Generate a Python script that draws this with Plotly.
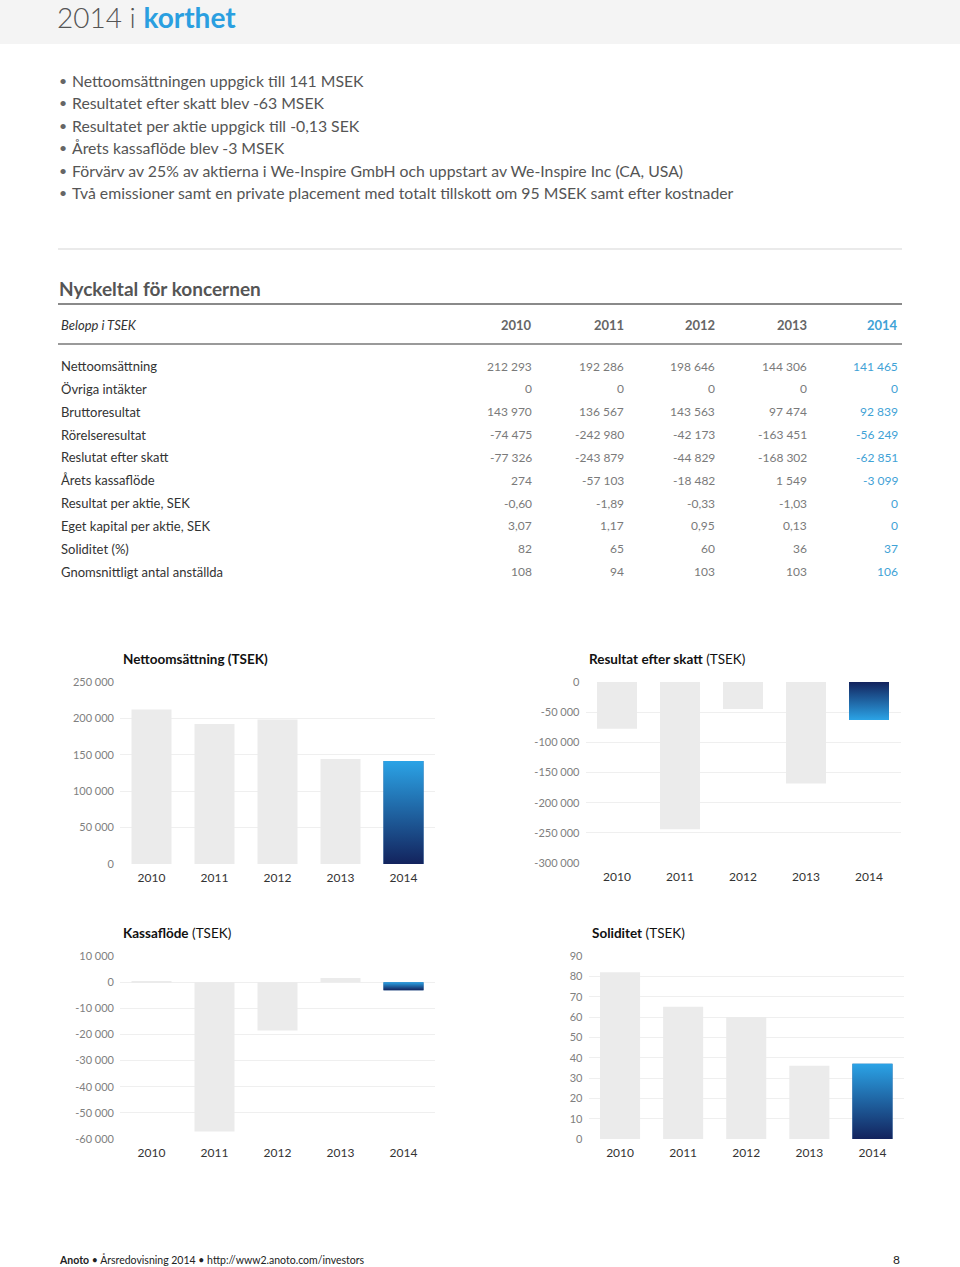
import plotly.graph_objects as go

# ---------------- data ----------------
YEARS = ["2010", "2011", "2012", "2013", "2014"]
NETTO = [212293, 192286, 198646, 144306, 141465]
RESULTAT = [-77326, -243879, -44829, -168302, -62851]
KASSA = [274, -57103, -18482, 1549, -3099]
SOLIDITET = [82, 65, 60, 36, 37]

NETTO_TICKS = [0, 50000, 100000, 150000, 200000, 250000]
RESULTAT_TICKS = [-300000, -250000, -200000, -150000, -100000, -50000, 0]
KASSA_TICKS = [-60000, -50000, -40000, -30000, -20000, -10000, 0, 10000]
SOLID_TICKS = [0, 10, 20, 30, 40, 50, 60, 70, 80, 90]

BULLETS = [
    "Nettoomsättningen uppgick till 141 MSEK",
    "Resultatet efter skatt blev -63 MSEK",
    "Resultatet per aktie uppgick till -0,13 SEK",
    "Årets kassaflöde blev -3 MSEK",
    "Förvärv av 25% av aktierna i We-Inspire GmbH och uppstart av We-Inspire Inc (CA, USA)",
    "Två emissioner samt en private placement med totalt tillskott om 95 MSEK samt efter kostnader",
]

ROW_LABELS = [
    "Nettoomsättning", "Övriga intäkter", "Bruttoresultat", "Rörelseresultat",
    "Reslutat efter skatt", "Årets kassaflöde", "Resultat per aktie, SEK",
    "Eget kapital per aktie, SEK", "Soliditet (%)", "Gnomsnittligt antal anställda",
]
COL_2010 = ["212 293", "0", "143 970", "-74 475", "-77 326", "274", "-0,60", "3,07", "82", "108"]
COL_2011 = ["192 286", "0", "136 567", "-242 980", "-243 879", "-57 103", "-1,89", "1,17", "65", "94"]
COL_2012 = ["198 646", "0", "143 563", "-42 173", "-44 829", "-18 482", "-0,33", "0,95", "60", "103"]
COL_2013 = ["144 306", "0", "97 474", "-163 451", "-168 302", "1 549", "-1,03", "0,13", "36", "103"]
COL_2014 = ["141 465", "0", "92 839", "-56 249", "-62 851", "-3 099", "0", "0", "37", "106"]

# ---------------- style ----------------
W, H = 960, 1267
FONT = "Lato"
GREY_BAR = "#ebebeb"
GRID = "#efefef"
DARK = "#13235d"
LIGHT = "#2ba3e6"
BLUE_TXT = "#3fa2d6"
BAR_W = 0.635


def px(x):
    return x / W


def py(y):
    return 1 - y / H


def fmt(v):
    return f"{v:,}".replace(",", " ")


fig = go.Figure()
annotations = []
shapes = []

# header band
shapes.append(dict(type="rect", xref="paper", yref="paper", x0=0, x1=1, y0=py(44), y1=1,
                   fillcolor="#f4f4f4", line=dict(width=0), layer="below"))
annotations.append(dict(x=px(56), y=py(17), xref="paper", yref="paper", xanchor="left", yanchor="middle",
                        showarrow=False, borderpad=0,
                        text="<span style='color:#555555'>2014 i </span><b><span style='color:#2a9fe0'>korthet</span></b>",
                        font=dict(family=FONT, size=28, color="#555555", weight=300)))

# bullets
for i, b in enumerate(BULLETS):
    y = 80 + i * 22.6
    annotations.append(dict(x=px(57), y=py(y), xref="paper", yref="paper", xanchor="left", yanchor="middle",
                            showarrow=False, text="•", font=dict(family=FONT, size=14, color="#666666")))
    annotations.append(dict(x=px(70), y=py(y), xref="paper", yref="paper", xanchor="left", yanchor="middle",
                            showarrow=False, text=b, font=dict(family=FONT, size=15.8, color="#555555")))

# lines of the table
shapes.append(dict(type="line", xref="paper", yref="paper", x0=px(58), x1=px(902), y0=py(249), y1=py(249),
                   line=dict(color="#e3e3e3", width=1.5)))
shapes.append(dict(type="line", xref="paper", yref="paper", x0=px(58), x1=px(902), y0=py(304), y1=py(304),
                   line=dict(color="#8a8a8a", width=2)))
shapes.append(dict(type="line", xref="paper", yref="paper", x0=px(58), x1=px(902), y0=py(344), y1=py(344),
                   line=dict(color="#9a9a9a", width=2)))

annotations.append(dict(x=px(57), y=py(288), xref="paper", yref="paper", xanchor="left", yanchor="middle",
                        showarrow=False, text="<b>Nyckeltal för koncernen</b>",
                        font=dict(family=FONT, size=19, color="#555555")))
annotations.append(dict(x=px(59), y=py(325), xref="paper", yref="paper", xanchor="left", yanchor="middle",
                        showarrow=False, text="<i>Belopp i TSEK</i>",
                        font=dict(family=FONT, size=13, color="#333333")))

COL_X = [534, 626, 717, 809, 900]
COLS = [COL_2010, COL_2011, COL_2012, COL_2013, COL_2014]
for j, (yr, cx) in enumerate(zip(YEARS, COL_X)):
    col = BLUE_TXT if j == 4 else "#666666"
    annotations.append(dict(x=px(cx), y=py(325), xref="paper", yref="paper", xanchor="right", yanchor="middle",
                            showarrow=False, text=f"<b>{yr}</b>", font=dict(family=FONT, size=13, color=col)))

for i, lab in enumerate(ROW_LABELS):
    y = 366 + i * 22.85
    annotations.append(dict(x=px(59), y=py(y), xref="paper", yref="paper", xanchor="left", yanchor="middle",
                            showarrow=False, text=lab, font=dict(family=FONT, size=13, color="#333333")))
    for j, cx in enumerate(COL_X):
        col = BLUE_TXT if j == 4 else "#7a7a7a"
        annotations.append(dict(x=px(cx), y=py(y), xref="paper", yref="paper", xanchor="right", yanchor="middle",
                                showarrow=False, text=COLS[j][i], font=dict(family=FONT, size=12, color=col)))

# ---------------- charts ----------------
charts = [
    dict(vals=NETTO, ticks=NETTO_TICKS, xd=(120, 435), yd=(682, 864), title="<b>Nettoomsättning (TSEK)</b>",
         tx=121, ty=659, dark_at_zero=True),
    dict(vals=RESULTAT, ticks=RESULTAT_TICKS, xd=(585.5, 900.5), yd=(682, 863),
         title="<b>Resultat efter skatt</b> (TSEK)", tx=587, ty=659, dark_at_zero=True),
    dict(vals=KASSA, ticks=KASSA_TICKS, xd=(120, 435), yd=(956, 1139),
         title="<b>Kassaflöde</b> (TSEK)", tx=121, ty=933, dark_at_zero=False),
    dict(vals=SOLIDITET, ticks=SOLID_TICKS, xd=(588.5, 904), yd=(956, 1139),
         title="<b>Soliditet</b> (TSEK)", tx=590, ty=933, dark_at_zero=True),
]

layout_axes = {}
for k, c in enumerate(charts):
    n = "" if k == 0 else str(k + 1)
    xa, ya = "x" + n, "y" + n
    vals = c["vals"]
    xs = list(range(len(YEARS)))
    colors = [GREY_BAR] * (len(vals) - 1) + ["#1f5fa0"]
    fig.add_trace(go.Bar(x=xs, y=vals, width=BAR_W, marker=dict(color=colors, line=dict(width=0)),
                         xaxis=xa, yaxis=ya, showlegend=False, hoverinfo="y"))
    # gradient overlay for the last (2014) bar
    i = len(vals) - 1
    v = vals[i]
    lo, hi = min(0, v), max(0, v)
    zero_low = (v >= 0)
    if c["dark_at_zero"]:
        cs = [[0, DARK], [1, LIGHT]] if zero_low else [[0, LIGHT], [1, DARK]]
    else:
        cs = [[0, LIGHT], [1, DARK]] if zero_low else [[0, DARK], [1, LIGHT]]
    fig.add_trace(go.Scatter(
        x=[i - BAR_W / 2, i + BAR_W / 2, i + BAR_W / 2, i - BAR_W / 2, i - BAR_W / 2],
        y=[0, 0, v, v, 0], mode="lines", line=dict(width=0), fill="toself",
        fillgradient=dict(type="vertical", colorscale=cs, start=lo, stop=hi),
        xaxis=xa, yaxis=ya, showlegend=False, hoverinfo="skip"))

    ticks = c["ticks"]
    layout_axes["xaxis" + n] = dict(
        domain=[px(c["xd"][0]), px(c["xd"][1])], range=[-0.5, len(YEARS) - 0.5], anchor=ya,
        tickmode="array", tickvals=xs, ticktext=YEARS, showgrid=False, zeroline=False, showline=False,
        ticks="", tickfont=dict(family=FONT, size=12, color="#333333"), ticklabelstandoff=5,
        fixedrange=True, automargin=False)
    layout_axes["yaxis" + n] = dict(
        domain=[py(c["yd"][1]), py(c["yd"][0])], range=[ticks[0], ticks[-1]], anchor=xa,
        tickmode="array", tickvals=ticks, ticktext=[fmt(t) for t in ticks],
        showgrid=True, gridcolor=GRID, gridwidth=1, zeroline=False, showline=False, ticks="",
        tickfont=dict(family=FONT, size=11, color="#808080"), ticklabelstandoff=5,
        fixedrange=True, automargin=False)
    annotations.append(dict(x=px(c["tx"]), y=py(c["ty"]), xref="paper", yref="paper", xanchor="left",
                            yanchor="middle", showarrow=False, text=c["title"],
                            font=dict(family=FONT, size=13.5, color="#111111")))

# footer
annotations.append(dict(x=px(57), y=py(1259), xref="paper", yref="paper", xanchor="left", yanchor="middle",
                        showarrow=False,
                        text="<b>Anoto</b> • Årsredovisning 2014 • http://www2.anoto.com/investors",
                        font=dict(family=FONT, size=10.5, color="#222222")))
annotations.append(dict(x=px(902), y=py(1259), xref="paper", yref="paper", xanchor="right", yanchor="middle",
                        showarrow=False, text="8", font=dict(family=FONT, size=12, color="#222222")))

fig.update_layout(
    width=W, height=H, margin=dict(l=0, r=0, t=0, b=0, pad=0, autoexpand=False),
    paper_bgcolor="white", plot_bgcolor="white",
    font=dict(family=FONT), barmode="overlay", showlegend=False,
    annotations=annotations, shapes=shapes, **layout_axes,
)

POST = "document.body.style.margin='0';document.body.style.overflow='hidden';"
fig.write_html("out.html", config=dict(displayModeBar=False), post_script=POST)
